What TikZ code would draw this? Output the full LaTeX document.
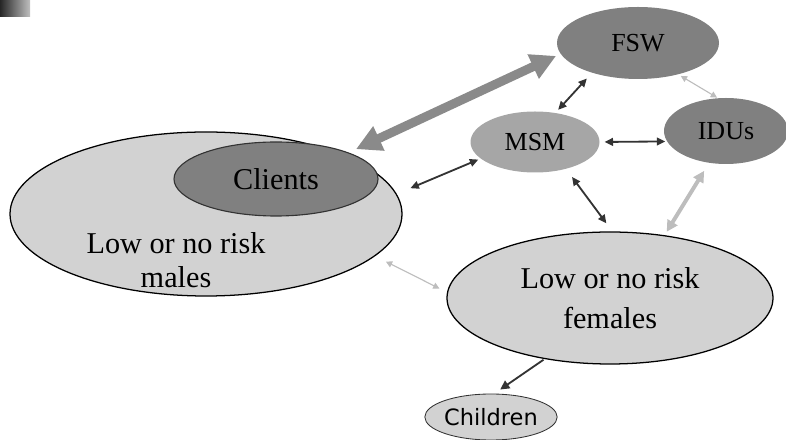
\documentclass[tikz,border=0pt]{standalone}
\usepackage{fontspec}
\setmainfont{Liberation Serif}
\newfontfamily\kidsfont{DejaVu Sans}
\usetikzlibrary{shapes.geometric,arrows.meta}

\definecolor{lightfill}{HTML}{D2D2D2}
\definecolor{darkfill}{HTML}{808080}
\definecolor{midfill}{HTML}{A6A6A6}
\definecolor{bigarrow}{HTML}{8A8A8A}
\definecolor{palearrow}{HTML}{BDBDBD}
\definecolor{darkarrow}{HTML}{333333}

\begin{document}
\begin{tikzpicture}[
	group/.style={ellipse,inner sep=0pt,font=\fontsize{21.5}{24}\selectfont},
	core/.style={group,fill=darkfill,font=\fontsize{18.5}{21}\selectfont},
	link/.style={{Triangle[length=6pt,width=5.5pt]}-{Triangle[length=6pt,width=5.5pt]},line width=1.3pt,darkarrow},
	palelink/.style={{Triangle[length=4.5pt,width=4.5pt]}-{Triangle[length=4.5pt,width=4.5pt]},line width=0.8pt,palearrow}
	]
	\useasboundingbox (0,0) rectangle (19.65,11);
	% corner mark
	\shade[left color=black!85,right color=black!25] (0,10.575) rectangle (0.75,11);
	% draw groups
	\node[group,draw,line width=0.9pt,fill=lightfill,minimum width=9.8cm,minimum height=4.1cm] (males) at (5.15,5.65) {};
	\node[group,draw=black!80,line width=0.8pt,fill=darkfill,minimum width=5.1cm,minimum height=1.85cm] (clients) at (6.9,6.525) {Clients};
	\node[align=center,inner sep=0pt,font=\fontsize{21.5}{24}\selectfont] (malestext) at (4.4,4.5) {Low or no risk\\males};
	\node[core,minimum width=4.05cm,minimum height=1.8cm] (fsw) at (15.95,9.925) {FSW};
	\node[core,fill=midfill,minimum width=3.225cm,minimum height=1.525cm] (msm) at (13.375,7.45) {MSM};
	\node[core,minimum width=3.1cm,minimum height=1.65cm] (idus) at (18.15,7.725) {IDUs};
	\node[group,draw,line width=0.9pt,fill=lightfill,align=center,minimum width=8.15cm,minimum height=3.3cm,font=\fontsize{21.5}{28.5}\selectfont] (females) at (15.25,3.55) {Low or no risk\\females};
	\node[group,draw=black!80,line width=0.6pt,fill=lightfill,minimum width=2.875cm,minimum height=1.15cm,font=\kidsfont\fontsize{16}{18}\selectfont] (children) at (12.275,0.575) {Children};
	% draw links
	\draw[{Triangle[length=18pt,width=18pt]}-{Triangle[length=18pt,width=18pt]},line width=6.4pt,bigarrow,shorten <=0.2cm,shorten >=0.12cm] (clients.20) -- (fsw.188);
	\draw[link,shorten <=0.19cm,shorten >=0.1cm] (fsw.213) -- (msm.55);
	\draw[palelink,shorten <=0.07cm,shorten >=0.02cm] (fsw.-38) -- (idus.104);
	\draw[link,shorten <=0.12cm,shorten >=0.04cm] (msm.0) -- (idus.190);
	\draw[link,shorten <=0.06cm,shorten >=0.37cm] (msm.197) -- (males.6);
	\draw[link,shorten <=0.25cm,shorten >=0.25cm] (msm.-41) -- (females.88);
	\draw[{Triangle[length=8pt,width=8pt]}-{Triangle[length=8pt,width=8pt]},line width=2.8pt,palearrow,shorten <=0.23cm,shorten >=0.1cm] (idus.242) -- (females.49);
	\draw[palelink,shorten <=0.3cm,shorten >=0.21cm] (males.-14) -- (females.178);
	\draw[-{Triangle[length=6.5pt,width=6.5pt]},line width=1.3pt,darkarrow,shorten <=0.03cm,shorten >=0.18cm] (females.223) -- (children.82);
\end{tikzpicture}
\end{document}
